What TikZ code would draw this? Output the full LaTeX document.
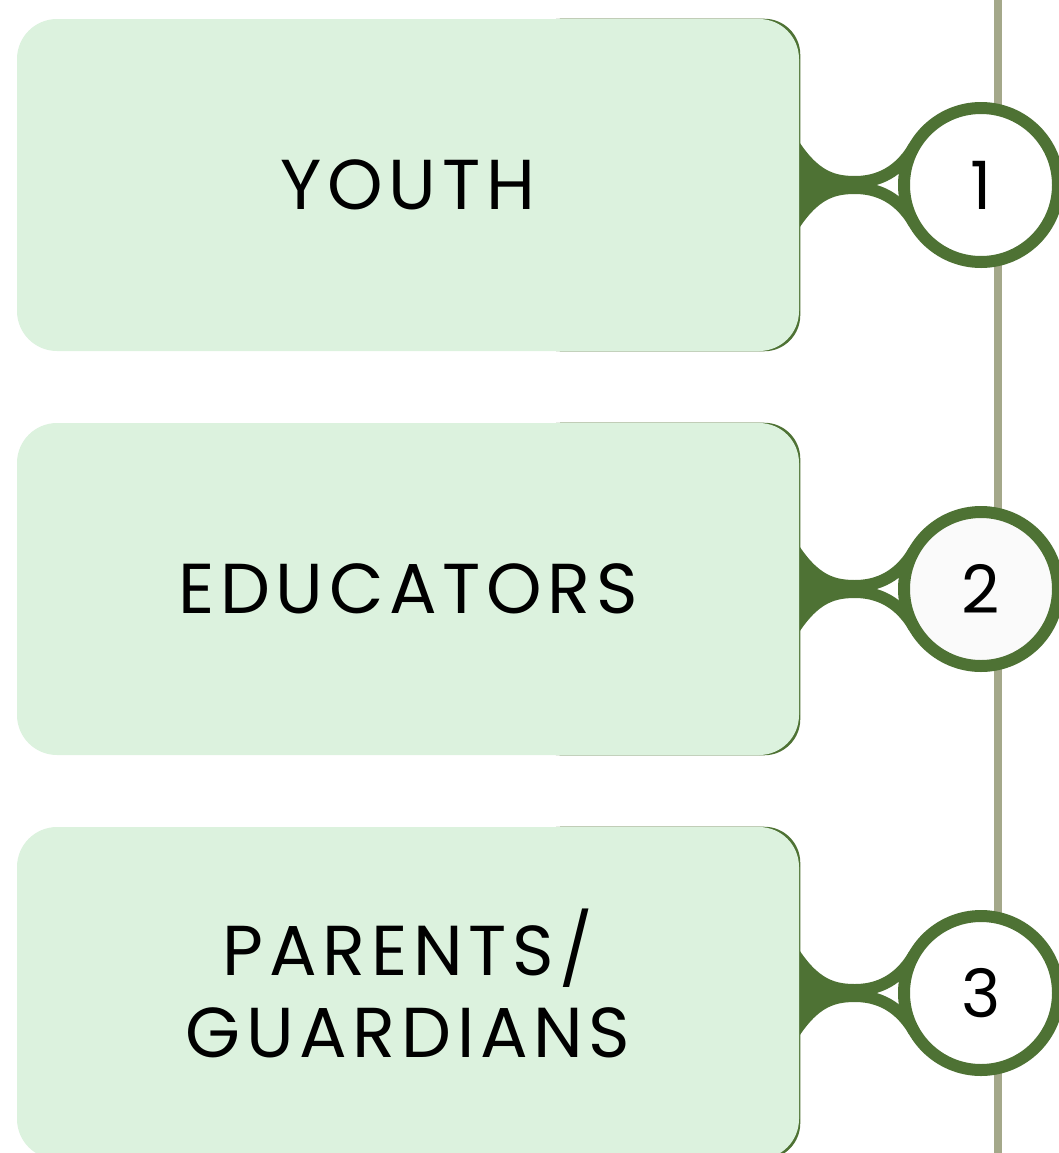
\documentclass[tikz,border=0pt]{standalone}
\usepackage{fontspec}
\setmainfont{Poppins}
\usetikzlibrary{calc,backgrounds}
\definecolor{boxgreen}{HTML}{DCF2DE}
\definecolor{leafgreen}{HTML}{4E7234}
\definecolor{stemgray}{HTML}{A4A88A}

\begin{document}
\begin{tikzpicture}[x=0.75pt,y=-0.75pt,
	group/.style={fill=boxgreen, rounded corners=30pt, minimum width=586.5pt, minimum height=249pt, inner sep=0pt, align=center, font=\fontsize{53}{61.5}\selectfont\addfontfeature{LetterSpace=8}},
	badge/.style={circle, draw=leafgreen, line width=9pt, fill=white, minimum size=115.5pt, inner sep=0pt, font=\fontsize{50}{60}\selectfont},
	neck/.style={leafgreen, line width=9pt}]
	\useasboundingbox (0,0) rectangle (1059,1153);

	% audience boxes
	\node[group] (b1) at (408,185) {YOUTH};
	\node[group] (b2) at (408,589) {EDUCATORS};
	\node[group, text depth=15pt] (b3) at (408,993) {PARENTS/\\GUARDIANS};

	% numbered badges
	\node[badge] (n1) at (981,185) {1};
	\node[badge, fill=black!2] (n2) at (981,589) {2};
	\node[badge] (n3) at (981,993) {3};

	\coordinate (top) at (998,0);
	\coordinate (bottom) at (998,1153);

	\begin{scope}[on background layer]
		\draw[stemgray, line width=5.5pt] (top) -- (bottom);
		\foreach \i in {1,2,3} {
			\fill[leafgreen, rounded corners=27pt] ($(b\i.north east)+(1,0)$) rectangle ($(b\i.south east)+(-275,0)$);
			\begin{scope}[shift={(n\i.center)}]
				\fill[leafgreen] (-196,-55) .. controls (-171,-10) and (-151,-3) .. (-126,-3) -- (-126,3) .. controls (-151,3) and (-171,10) .. (-196,55) -- cycle;
				\draw[neck] (-196,-55) .. controls (-171,-10) and (-151,-3) .. (-126,-3) .. controls (-96,-3) and (-77.7,-19.5) .. (-66.7,-38.5);
				\draw[neck] (-196,55) .. controls (-171,10) and (-151,3) .. (-126,3) .. controls (-96,3) and (-77.7,19.5) .. (-66.7,38.5);
			\end{scope}
		}
	\end{scope}
\end{tikzpicture}
\end{document}
